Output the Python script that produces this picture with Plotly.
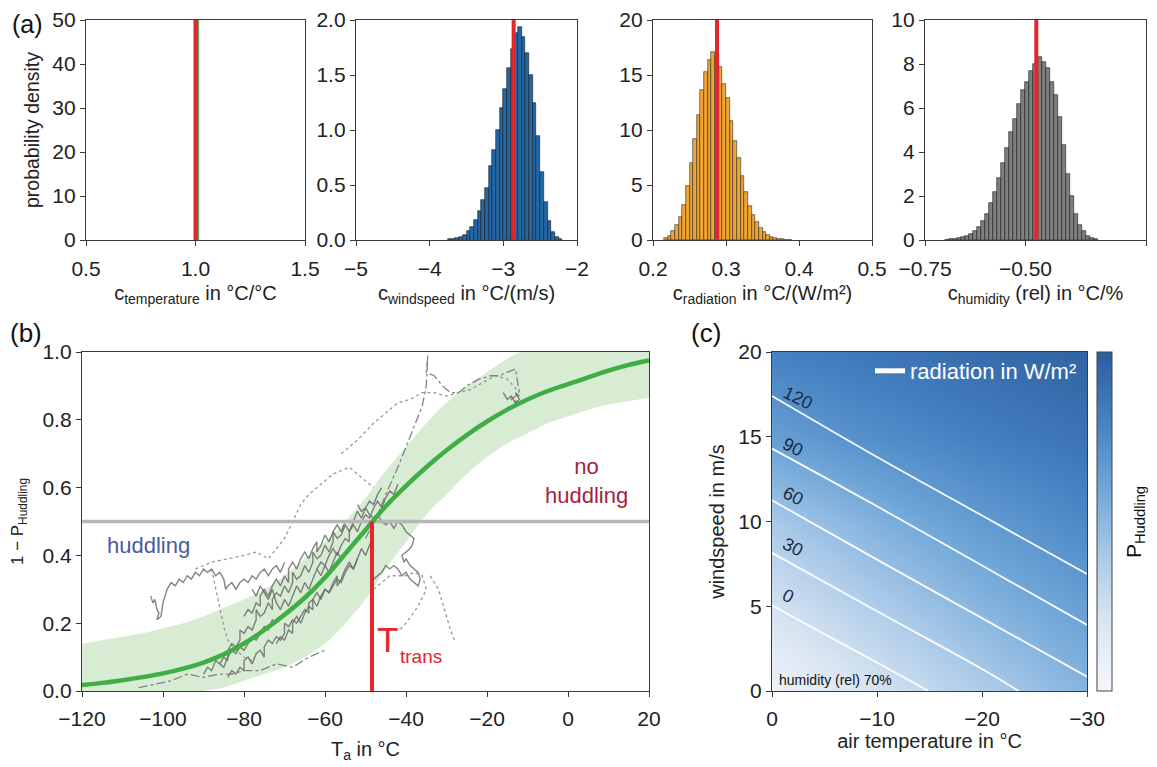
import plotly.graph_objects as go

# ---------------- DATA ----------------
# (a) posterior histograms (bin centres, probability density)
temp_centers = [1.012]
temp_density = [60]
temp_mean = 1.0

wind_centers = [-3.725, -3.675, -3.625, -3.575, -3.525, -3.475, -3.425, -3.375, -3.325, -3.275,
                -3.225, -3.175, -3.125, -3.075, -3.025, -2.975, -2.925, -2.875, -2.825, -2.775,
                -2.725, -2.675, -2.625, -2.575, -2.525, -2.475, -2.425, -2.375, -2.325, -2.275, -2.225]
wind_density = [0.005, 0.01, 0.02, 0.03, 0.05, 0.08, 0.12, 0.18, 0.26, 0.36,
                0.47, 0.67, 0.82, 1.00, 1.20, 1.37, 1.56, 1.74, 1.88, 1.94,
                1.85, 1.70, 1.50, 1.25, 0.95, 0.62, 0.35, 0.17, 0.07, 0.03, 0.01]
wind_mean = -2.86

rad_centers = [0.2175, 0.2225, 0.2275, 0.2325, 0.2375, 0.2425, 0.2475, 0.2525, 0.2575, 0.2625,
               0.2675, 0.2725, 0.2775, 0.2825, 0.2875, 0.2925, 0.2975, 0.3025, 0.3075, 0.3125,
               0.3175, 0.3225, 0.3275, 0.3325, 0.3375, 0.3425, 0.3475, 0.3525, 0.3575, 0.3625,
               0.3675, 0.3725, 0.3775, 0.3825, 0.3875]
rad_density = [0.2, 0.4, 0.8, 1.4, 2.1, 3.2, 4.9, 7.0, 9.2, 11.4,
               13.6, 15.3, 16.4, 17.1, 16.8, 15.7, 14.2, 12.9, 10.8, 9.0,
               7.5, 5.8, 4.4, 3.1, 2.3, 1.6, 1.1, 0.75, 0.5, 0.3,
               0.2, 0.12, 0.07, 0.04, 0.02]
rad_mean = 0.2877

hum_centers = [-0.695, -0.685, -0.675, -0.665, -0.655, -0.645, -0.635, -0.625, -0.615, -0.605,
               -0.595, -0.585, -0.575, -0.565, -0.555, -0.545, -0.535, -0.525, -0.515, -0.505,
               -0.495, -0.485, -0.475, -0.465, -0.455, -0.445, -0.435, -0.425, -0.415, -0.405,
               -0.395, -0.385, -0.375, -0.365, -0.355, -0.345, -0.335, -0.325]
hum_density = [0.02, 0.03, 0.05, 0.08, 0.12, 0.18, 0.27, 0.4, 0.6, 0.85,
               1.2, 1.7, 2.2, 2.8, 3.5, 4.2, 4.9, 5.5, 6.2, 6.8,
               7.2, 7.7, 8.0, 8.3, 8.1, 7.8, 7.2, 6.6, 5.6, 4.3,
               3.0, 2.0, 1.2, 0.7, 0.4, 0.2, 0.1, 0.05]
hum_mean = -0.473

# (b) fitted logistic curve with uncertainty band
b_temp = [-120, -115, -110, -105, -100, -95, -90, -85, -80, -75, -70, -65, -60, -55, -50,
          -45, -40, -35, -30, -25, -20, -15, -10, -5, 0, 5, 10, 15, 20]
b_fit = [0.018, 0.024, 0.032, 0.041, 0.052, 0.066, 0.084, 0.108, 0.14, 0.18, 0.225, 0.275, 0.335,
         0.405, 0.475, 0.545, 0.605, 0.66, 0.71, 0.755, 0.795, 0.83, 0.86, 0.885, 0.905, 0.925,
         0.945, 0.962, 0.975]
b_upper = [0.14, 0.15, 0.16, 0.17, 0.185, 0.20, 0.22, 0.245, 0.27, 0.30, 0.34, 0.39, 0.44, 0.50,
           0.57, 0.65, 0.72, 0.79, 0.85, 0.90, 0.94, 0.98, 1.01, 1.03, 1.05, 1.06, 1.07, 1.08, 1.09]
b_lower = [-0.03, -0.03, -0.025, -0.02, -0.015, -0.01, 0.0, 0.01, 0.03, 0.05, 0.07, 0.10, 0.14,
           0.20, 0.27, 0.36, 0.44, 0.52, 0.58, 0.64, 0.69, 0.73, 0.76, 0.79, 0.81, 0.83, 0.845,
           0.855, 0.865]
T_trans = -48.4
threshold = 0.5

# observed colony tracks (T_a, 1 - P_huddling); style: solid / dot / dashdot
tracks = [
    ("solid", [-103, -102.5, -102, -101.5, -101, -101.5, -100.5, -100, -99, -98, -97, -96, -95, -94,
               -93, -92, -91, -90, -89, -88, -87, -86, -85, -84.5, -84, -83, -82, -81, -80, -79,
               -78, -77, -76, -75, -74, -73, -72, -71, -70],
              [0.28, 0.26, 0.27, 0.24, 0.23, 0.21, 0.22, 0.26, 0.30, 0.32, 0.31, 0.33, 0.32, 0.34,
               0.33, 0.35, 0.34, 0.36, 0.35, 0.36, 0.34, 0.35, 0.33, 0.30, 0.31, 0.32, 0.30, 0.32,
               0.33, 0.32, 0.34, 0.33, 0.35, 0.36, 0.34, 0.36, 0.37, 0.35, 0.38]),
    ("dot", [-92, -88, -84, -80, -77, -74, -72, -70, -68, -66, -64, -62, -60, -58, -56, -54, -52,
             -50, -48],
            [0.36, 0.38, 0.39, 0.40, 0.41, 0.39, 0.42, 0.45, 0.50, 0.55, 0.58, 0.60, 0.62, 0.64,
             0.65, 0.66, 0.64, 0.62, 0.60]),
    ("dot", [-88, -87, -86, -85, -84, -82, -80, -78],
            [0.36, 0.30, 0.24, 0.19, 0.15, 0.12, 0.10, 0.09]),
    ("dashdot", [-50, -47, -45, -42, -40, -38, -36, -35, -34.6, -35, -33, -31, -29, -27, -25, -22,
                 -19, -17, -15, -13, -12, -14, -12],
                [0.45, 0.52, 0.58, 0.66, 0.72, 0.78, 0.84, 0.90, 0.99, 0.94, 0.93, 0.90, 0.88,
                 0.88, 0.90, 0.92, 0.93, 0.93, 0.94, 0.95, 0.88, 0.86, 0.85]),
    ("dot", [-56, -52, -48, -45, -42, -39, -36, -33, -30, -27, -24, -21, -18, -15, -12],
            [0.70, 0.74, 0.79, 0.82, 0.85, 0.86, 0.88, 0.88, 0.87, 0.88, 0.89, 0.91, 0.93, 0.92,
             0.88]),
    ("solid", [-52, -51, -50, -49, -48, -47, -46, -45, -44, -43, -42, -41, -40, -39, -38, -38.5,
               -39, -40, -41, -40.5, -40, -39, -38, -37, -36.5, -37, -38, -39, -40, -41, -42, -43,
               -44, -45, -46, -47, -48],
              [0.55, 0.53, 0.54, 0.52, 0.51, 0.52, 0.50, 0.49, 0.50, 0.48, 0.50, 0.49, 0.47, 0.46,
               0.45, 0.43, 0.42, 0.41, 0.40, 0.38, 0.39, 0.37, 0.36, 0.35, 0.33, 0.31, 0.32, 0.33,
               0.35, 0.34, 0.36, 0.37, 0.36, 0.37, 0.35, 0.34, 0.33]),
    ("dot", [-48, -46, -44, -42, -40, -38, -36, -35, -37, -40, -44, -47],
            [0.30, 0.32, 0.34, 0.34, 0.34, 0.35, 0.34, 0.30, 0.25, 0.20, 0.15, 0.10]),
    ("solid", [-86, -85, -84, -84, -83, -82, -81, -81, -80, -79, -78, -77, -77, -76, -75, -74,
               -73, -73, -72, -71, -70, -69, -68, -68, -67, -66, -65, -64, -63, -63, -62, -61,
               -60, -59, -58, -58, -57, -56, -55, -54, -53, -52, -51, -50, -49, -48, -47, -46],
              [0.08, 0.10, 0.09, 0.12, 0.14, 0.13, 0.15, 0.18, 0.17, 0.19, 0.18, 0.21, 0.24, 0.22,
               0.23, 0.26, 0.24, 0.27, 0.29, 0.28, 0.31, 0.29, 0.32, 0.35, 0.33, 0.34, 0.37, 0.35,
               0.38, 0.41, 0.39, 0.40, 0.43, 0.41, 0.44, 0.47, 0.45, 0.46, 0.49, 0.47, 0.50, 0.53,
               0.51, 0.54, 0.56, 0.55, 0.58, 0.60]),
    ("solid", [-84, -83, -82, -81, -80, -80, -79, -78, -77, -76, -75, -75, -74, -73, -72, -71,
               -70, -70, -69, -68, -67, -66, -65, -64, -64, -63, -62, -61, -60, -59, -58, -57,
               -56, -55, -54, -53, -52],
              [0.04, 0.06, 0.05, 0.07, 0.06, 0.09, 0.10, 0.08, 0.11, 0.12, 0.10, 0.13, 0.15, 0.14,
               0.16, 0.15, 0.17, 0.20, 0.19, 0.21, 0.20, 0.22, 0.24, 0.23, 0.26, 0.27, 0.25, 0.28,
               0.30, 0.29, 0.31, 0.33, 0.32, 0.35, 0.37, 0.36, 0.39]),
    ("solid", [-80, -79, -78, -77, -76, -76, -75, -74, -73, -72, -71, -70, -69, -69, -68, -67,
               -66, -65, -64, -63, -62, -62, -61, -60, -59, -58, -57, -56, -55],
              [0.22, 0.24, 0.23, 0.26, 0.25, 0.28, 0.30, 0.28, 0.31, 0.33, 0.31, 0.34, 0.32, 0.36,
               0.38, 0.36, 0.39, 0.41, 0.39, 0.42, 0.44, 0.41, 0.43, 0.46, 0.44, 0.47, 0.49, 0.47,
               0.50]),
    ("solid", [-72, -71, -70, -69, -68, -68, -67, -66, -65, -64, -63, -63, -62, -61, -60, -59,
               -58, -57, -57, -56, -55, -54, -53, -52, -51, -50, -49, -48],
              [0.14, 0.16, 0.15, 0.18, 0.17, 0.20, 0.22, 0.20, 0.23, 0.25, 0.24, 0.27, 0.29, 0.27,
               0.30, 0.29, 0.32, 0.34, 0.31, 0.33, 0.36, 0.38, 0.36, 0.39, 0.42, 0.40, 0.43, 0.46]),
    ("solid", [-62, -61, -60, -59, -58, -57, -56, -55, -54, -54, -53, -52, -51, -50, -49, -48,
               -47, -46, -45, -44, -43, -42],
              [0.36, 0.38, 0.37, 0.40, 0.42, 0.40, 0.43, 0.45, 0.44, 0.47, 0.49, 0.47, 0.50, 0.52,
               0.51, 0.54, 0.56, 0.54, 0.57, 0.59, 0.58, 0.61]),
    ("solid", [-78, -77, -76, -75, -74, -73, -72, -71, -70, -69, -68, -67, -66, -65, -64, -63,
               -62, -61, -60, -59, -58, -57, -56],
              [0.30, 0.28, 0.31, 0.29, 0.27, 0.30, 0.26, 0.24, 0.27, 0.25, 0.28, 0.31, 0.29, 0.32,
               0.30, 0.33, 0.36, 0.34, 0.37, 0.35, 0.38, 0.41, 0.39]),
    ("solid", [-90, -89, -88, -87, -86, -85, -84, -83, -82, -81, -80, -79, -78, -77, -76, -75,
               -74, -73, -72],
              [0.05, 0.07, 0.06, 0.09, 0.08, 0.07, 0.10, 0.12, 0.11, 0.13, 0.12, 0.14, 0.16, 0.15,
               0.17, 0.19, 0.18, 0.21, 0.20]),
    ("solid", [-16, -15, -14, -13, -12, -13, -12],
              [0.88, 0.86, 0.87, 0.85, 0.86, 0.88, 0.87]),
    ("dashdot", [-106, -102, -98, -94, -90, -86, -83, -80, -76, -72, -68, -64, -60],
                [0.01, 0.02, 0.03, 0.05, 0.04, 0.05, 0.05, 0.06, 0.06, 0.08, 0.07, 0.10, 0.12]),
    ("dot", [-34, -32, -31, -30, -29, -28],
            [0.34, 0.30, 0.26, 0.22, 0.18, 0.15]),
]

# (c) modelled P_huddling map
c_airtemp = [-30, -20, -10, 0]
c_wind = [0, 5, 10, 15, 20]
c_p = [
    [0.52, 0.38, 0.22, 0.07],
    [0.64, 0.52, 0.38, 0.23],
    [0.76, 0.66, 0.54, 0.40],
    [0.88, 0.81, 0.73, 0.64],
    [0.97, 0.92, 0.86, 0.80],
]
# radiation isolines (W/m²): air temperature and windspeed points
rad_levels = [0, 30, 60, 90, 120]
rad_line_x = [[0, -5, -10, -14.9], [0, -10, -20, -23.5], [0, -10, -20, -30],
              [0, -10, -20, -30], [0, -10, -20, -30]]
rad_line_y = [[5.05, 3.35, 1.68, 0], [8.15, 4.7, 1.3, 0], [11.25, 7.75, 4.3, 0.85],
              [14.3, 10.9, 7.4, 3.9], [17.4, 13.8, 10.35, 6.9]]
rad_label_x = [-1.5, -2.0, -2.0, -2.0, -2.5]
rad_label_y = [5.6, 8.5, 11.5, 14.4, 17.3]

# ---------------- FIGURE ----------------
OFF = 8                      # page body margin of the html page
W, H = 1157 - OFF, 767 - OFF
FONT = "Liberation Sans, Arial, Helvetica, sans-serif"
AX = "#3a3a3a"
RED = "#e3262d"
TICK = 21
TITLE = 20


def dx(px):
    return (px - OFF) / W


def dy(py):
    return 1 - (py - OFF) / H


def axis(title=None, standoff=12, tsize=TITLE, **kw):
    base = dict(showline=True, linecolor=AX, linewidth=1.3, mirror=True, ticks="outside",
                ticklen=5, tickcolor=AX, tickwidth=1.2, showgrid=False, zeroline=False,
                automargin=False,
                tickfont=dict(size=TICK, color="#222", family=FONT))
    if title is not None:
        base["title"] = dict(text=title, standoff=standoff,
                             font=dict(size=tsize, color="#222", family=FONT))
    base.update(kw)
    return base


fig = go.Figure()

hist_specs = [
    ("x", "y", temp_centers, temp_density, 0.012, "#3a9a3a", "#3a9a3a"),
    ("x2", "y2", wind_centers, wind_density, 0.05, "#2267a8", "#1a1a1a"),
    ("x3", "y3", rad_centers, rad_density, 0.005, "#f2a531", "#2a2a2a"),
    ("x4", "y4", hum_centers, hum_density, 0.01, "#7f7f7f", "#1a1a1a"),
]
for xa, ya, cx, dens, w, col, edge in hist_specs:
    fig.add_trace(go.Bar(x=cx, y=dens, width=w, marker=dict(color=col, line=dict(color=edge, width=0.6)),
                         xaxis=xa, yaxis=ya, showlegend=False, hoverinfo="skip"))

for xa, ya, m in [("x", "y", temp_mean), ("x2", "y2", wind_mean), ("x3", "y3", rad_mean),
                  ("x4", "y4", hum_mean)]:
    fig.add_shape(type="line", xref=xa, yref=ya + " domain", x0=m, x1=m, y0=0, y1=1,
                  line=dict(color=RED, width=4), layer="above")

# (b) band
fig.add_trace(go.Scatter(x=b_temp, y=b_lower, mode="lines", line=dict(width=0, shape="spline"),
                         xaxis="x5", yaxis="y5", showlegend=False, hoverinfo="skip"))
fig.add_trace(go.Scatter(x=b_temp, y=b_upper, mode="lines", line=dict(width=0, shape="spline"),
                         fill="tonexty", fillcolor="rgba(160,210,150,0.42)",
                         xaxis="x5", yaxis="y5", showlegend=False, hoverinfo="skip"))
# tracks
for style, tx, ty in tracks:
    if style == "solid":
        ln = dict(color="rgba(100,100,100,0.8)", width=1.4)
    elif style == "dot":
        ln = dict(color="rgba(140,140,140,0.9)", width=1.3, dash="dot")
    else:
        ln = dict(color="rgba(120,120,120,0.9)", width=1.3, dash="dashdot")
    fig.add_trace(go.Scatter(x=tx, y=ty, mode="lines", line=ln, xaxis="x5", yaxis="y5",
                             showlegend=False, hoverinfo="skip"))
# threshold line
b_xrange = [-120, 20]
fig.add_trace(go.Scatter(x=b_xrange, y=[threshold, threshold], mode="lines",
                         line=dict(color="#b6b6b6", width=3.5), xaxis="x5", yaxis="y5",
                         showlegend=False, hoverinfo="skip"))
# fit
fig.add_trace(go.Scatter(x=b_temp, y=b_fit, mode="lines", line=dict(color="#3fae45", width=4.5, shape="spline"),
                         xaxis="x5", yaxis="y5", showlegend=False, hoverinfo="skip"))
fig.add_shape(type="line", xref="x5", yref="y5", x0=T_trans, x1=T_trans, y0=0, y1=threshold,
              line=dict(color=RED, width=4), layer="above")

# (c) heatmap
fig.add_trace(go.Heatmap(
    x=c_airtemp, y=c_wind, z=c_p, zsmooth="best", zmin=0, zmax=1, xaxis="x6", yaxis="y6",
    colorscale=[[0, "#f5f7fa"], [0.2, "#dbe6f2"], [0.4, "#a9c9e8"], [0.6, "#6fa6d8"],
                [0.8, "#4581c2"], [1, "#2d5e9e"]],
    colorbar=dict(x=dx(1097), xanchor="left", xpad=0, ypad=0, thickness=15, thicknessmode="pixels",
                  len=(691 - 352) / H, lenmode="fraction", y=dy(691), yanchor="bottom",
                  outlinewidth=1, outlinecolor="#444", showticklabels=False, ticks=""),
    hoverinfo="skip"))
for lx, ly in zip(rad_line_x, rad_line_y):
    fig.add_trace(go.Scatter(x=lx, y=ly, mode="lines", line=dict(color="rgba(255,255,255,0.95)", width=1.8, shape="spline"),
                             xaxis="x6", yaxis="y6", showlegend=False, hoverinfo="skip"))
fig.add_trace(go.Scatter(x=[None], y=[None], mode="lines", line=dict(color="white", width=5),
                         name="radiation in W/m²", xaxis="x6", yaxis="y6", showlegend=True))

annotations = []
for lev, lx, ly in zip(rad_levels, rad_label_x, rad_label_y):
    annotations.append(dict(x=lx, y=ly, xref="x6", yref="y6", text=str(lev), showarrow=False,
                            textangle=26, font=dict(size=18, color="#1d2a40", family=FONT)))


def paper_label(px, py, text, size, angle=0):
    return dict(x=dx(px), y=dy(py), xref="paper", yref="paper", text=text, showarrow=False,
                xanchor="center", yanchor="middle", textangle=angle,
                font=dict(size=size, color="#111", family=FONT))


annotations += [
    dict(x=-0.45, y=0.65, xref="x6", yref="y6", text="humidity (rel) 70%", showarrow=False,
         xanchor="left", font=dict(size=14, color="#111", family=FONT)),
    paper_label(1135, 522, "P<sub>Huddling</sub>", 21, -90),
    dict(x=-103.5, y=0.43, xref="x5", yref="y5", text="huddling", showarrow=False,
         bgcolor="rgba(255,255,255,0.85)", font=dict(size=22, color="#4a5b9c", family=FONT)),
    dict(x=4.5, y=0.62, xref="x5", yref="y5", text="no<br>huddling", showarrow=False,
         bgcolor="rgba(255,255,255,0.85)", font=dict(size=22, color="#a51f3c", family=FONT)),
    dict(x=-36.3, y=0.102, xref="x5", yref="y5", text="trans", showarrow=False,
         bgcolor="rgba(255,255,255,0.85)", borderpad=1,
         font=dict(size=19, color=RED, family=FONT)),
    dict(x=-44.6, y=0.152, xref="x5", yref="y5", text="T", showarrow=False,
         bgcolor="rgba(255,255,255,0.85)", borderpad=1,
         font=dict(size=35, color=RED, family=FONT)),
    paper_label(27, 24, "(a)", 25),
    paper_label(26, 333, "(b)", 26),
    paper_label(706, 333, "(c)", 26),
]

ya_dom = [dy(240), dy(20)]
yb_dom = [dy(691), dy(352)]
fig.update_layout(
    width=W, height=H, margin=dict(l=0, r=0, t=0, b=0),
    paper_bgcolor="white", plot_bgcolor="white",
    font=dict(family=FONT, color="#222"),
    bargap=0,
    xaxis=axis("c<sub>temperature</sub> in °C/°C", 6, domain=[dx(86), dx(305)], anchor="y",
               range=[0.5, 1.5], tickvals=[0.5, 1.0, 1.5], tickformat=".1f", ticklabelstandoff=5),
    yaxis=axis("probability density", 7, 19.5, domain=ya_dom, anchor="x", range=[0, 50], dtick=10),
    xaxis2=axis("c<sub>windspeed</sub> in °C/(m/s)", 6, domain=[dx(356), dx(577)], anchor="y2",
                range=[-5, -2], dtick=1, ticklabelstandoff=5),
    yaxis2=axis(domain=ya_dom, anchor="x2", range=[0, 2], dtick=0.5, tickformat=".1f"),
    xaxis3=axis("c<sub>radiation</sub> in °C/(W/m²)", 6, domain=[dx(653), dx(872)], anchor="y3",
                range=[0.2, 0.5], dtick=0.1, tickformat=".1f", ticklabelstandoff=5),
    yaxis3=axis(domain=ya_dom, anchor="x3", range=[0, 20], dtick=5),
    xaxis4=axis("c<sub>humidity</sub> (rel) in °C/%", 6, domain=[dx(925), dx(1146)], anchor="y4",
                range=[-0.75, -0.2], tickvals=[-0.75, -0.5, -0.2],
                ticktext=["−0.75", "−0.50", "−0.20"], ticklabelstandoff=5),
    yaxis4=axis(domain=ya_dom, anchor="x4", range=[0, 10], dtick=2),
    xaxis5=axis("T<sub>a</sub> in °C", 12, domain=[dx(82), dx(649)], anchor="y5",
                range=b_xrange, dtick=20, ticklabelstandoff=4),
    yaxis5=axis("1 − P<sub>Huddling</sub>", 14, 17, domain=yb_dom, anchor="x5", range=[0, 1],
                dtick=0.2, tickformat=".1f"),
    xaxis6=axis("air temperature in °C", 2, domain=[dx(772), dx(1087)], anchor="y6",
                range=[0, -30], dtick=10, ticklabelstandoff=4),
    yaxis6=axis("windspeed in m/s", 8, domain=yb_dom, anchor="x6", range=[0, 20], dtick=5),
    showlegend=True,
    legend=dict(x=dx(1082), xanchor="right", y=dy(371), yanchor="middle",
                bgcolor="rgba(0,0,0,0)", font=dict(size=22, color="white", family=FONT),
                itemwidth=30),
    annotations=annotations,
)

fig.write_html("out.html")
